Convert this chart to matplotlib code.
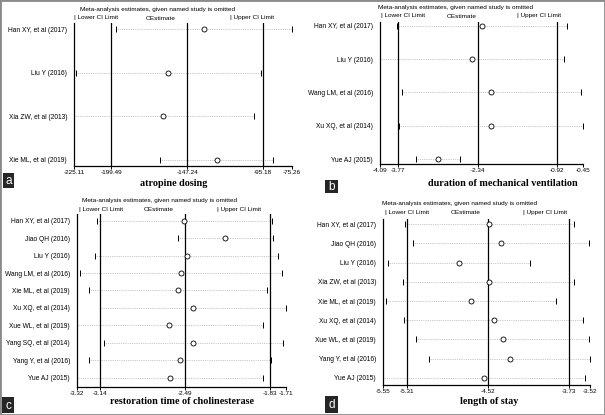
import numpy as np
import matplotlib.pyplot as plt
from matplotlib.patches import Rectangle

W, H = 605, 415

# panel a - atropine dosing
a_studies = ["Han XY, et al (2017)", "Liu Y (2016)", "Xia ZW, et al (2013)", "Xie ML, et al (2019)"]
a_low = [-196.5, -224.0, -225.11, -166.0]
a_est = [-135.8, -160.3, -163.7, -127.0]
a_up = [-75.5, -96.4, -101.4, -88.5]
a_ticks = [-225.11, -199.49, -147.24, -95.18, -75.26]

# panel b - duration of mechanical ventilation
b_studies = ["Han XY, et al (2017)", "Liu Y (2016)", "Wang LM, et al (2016)", "Xu XQ, et al (2014)", "Yue AJ (2015)"]
b_low = [-3.785, -4.09, -3.70, -3.75, -3.44]
b_est = [-2.257, -2.447, -2.10, -2.10, -3.056]
b_up = [-0.733, -0.798, -0.493, -0.45, -2.66]
b_ticks = [-4.09, -3.77, -2.34, -0.92, -0.45]

# panel c - restoration time of cholinesterase
c_studies = ["Han XY, et al (2017)", "Jiao QH (2016)", "Liu Y (2016)", "Wang LM, et al (2016)",
             "Xie ML, et al (2019)", "Xu XQ, et al (2014)", "Xue WL, et al (2019)",
             "Yang SQ, et al (2014)", "Yang Y, et al (2016)", "Yue AJ (2015)"]
c_low = [-3.164, -2.54, -3.179, -3.297, -3.23, -3.143, -3.32, -3.11, -3.225, -3.318]
c_est = [-2.493, -2.177, -2.475, -2.521, -2.542, -2.429, -2.609, -2.424, -2.526, -2.604]
c_up = [-1.818, -1.812, -1.774, -1.741, -1.854, -1.712, -1.889, -1.735, -1.828, -1.889]
c_ticks = [-3.32, -3.14, -2.49, -1.83, -1.71]

# panel d - length of stay
d_studies = ["Han XY, et al (2017)", "Jiao QH (2016)", "Liu Y (2016)", "Xia ZW, et al (2013)",
             "Xie ML, et al (2019)", "Xu XQ, et al (2014)", "Xue WL, et al (2019)",
             "Yang Y, et al (2016)", "Yue AJ (2015)"]
d_low = [-5.33, -5.251, -5.50, -5.35, -5.52, -5.344, -5.226, -5.098, -5.55]
d_est = [-4.509, -4.394, -4.803, -4.512, -4.688, -4.466, -4.377, -4.305, -4.558]
d_up = [-3.68, -3.532, -4.109, -3.674, -3.857, -3.591, -3.532, -3.517, -3.569]
d_ticks = [-5.55, -5.31, -4.52, -3.73, -3.52]

fig = plt.figure(figsize=(W / 100, H / 100), dpi=100)
fig.patch.set_facecolor("white")

SANS = ["Liberation Sans", "DejaVu Sans"]
SERIF = "Liberation Serif"


def ftext(x, y, s, **kw):
    return fig.text(x / W, 1 - y / H, s, **kw)


def panel(box, rows, studies, low, est, up, ticks, xlabel, xlab_xy, title_xy, leg_y, leg_x, letter, letter_box):
    x0, y0, x1, y1 = box
    ax = fig.add_axes([x0 / W, 1 - y1 / H, (x1 - x0) / W, (y1 - y0) / H])
    n = len(studies)
    first, last = rows
    s = (last - first) / (n - 1)
    y = np.arange(n)
    ax.hlines(y, low, up, colors="#b5b5b5", linestyles=(0, (1, 1.2)), lw=0.6, zorder=1)
    ax.plot(low, y, ls="none", marker="|", ms=3.8, mew=0.7, color="black", zorder=3)
    ax.plot(up, y, ls="none", marker="|", ms=3.8, mew=0.7, color="black", zorder=3)
    ax.plot(est, y, ls="none", marker="o", ms=3.6, mew=0.6, mfc="white", mec="black", zorder=4)
    for t in ticks[1:-1]:
        ax.axvline(t, color="black", lw=0.9, zorder=2)
    ax.set_xlim(ticks[0], ticks[-1])
    ax.set_ylim((y1 - first) / s, (y0 - first) / s)
    ax.set_xticks(ticks)
    ax.set_xticklabels([f"{t:.2f}" for t in ticks], fontsize=4.6, family=SANS)
    ax.tick_params(axis="x", length=2, width=0.7, pad=1)
    ax.set_yticks(y)
    ax.set_yticklabels(studies, fontsize=4.8, family=SANS)
    ax.tick_params(axis="y", length=0, pad=5)
    for side in ["top", "right"]:
        ax.spines[side].set_visible(False)
    for side in ["left", "bottom"]:
        ax.spines[side].set_linewidth(0.9)
    ax.set_facecolor("none")

    ftext(*title_xy, "Meta-analysis estimates, given named study is omitted",
          fontsize=4.6, family=SANS, ha="center", va="center")
    for xx, lab in zip(leg_x, ["| Lower CI Limit", "OEstimate", "| Upper CI Limit"]):
        ftext(xx, leg_y, lab, fontsize=4.6, family=SANS, ha="left", va="center")
    ftext(*xlab_xy, xlabel, fontsize=7.3, family=SERIF, weight="bold", ha="center", va="center")

    bx0, by0, bx1, by1 = letter_box
    fig.patches.append(Rectangle((bx0 / W, 1 - by1 / H), (bx1 - bx0) / W, (by1 - by0) / H,
                                 transform=fig.transFigure, facecolor="#262626", edgecolor="none"))
    ftext((bx0 + bx1) / 2, (by0 + by1) / 2 + 0.5, letter, color="white", fontsize=8.5,
          family=SANS, ha="center", va="center")
    return ax


panel((74, 23, 292, 166), (29, 160), a_studies, a_low, a_est, a_up, a_ticks,
      "atropine dosing", (174, 184), (158, 10), 18, (74, 146, 230), "a", (3, 173, 14, 188))
panel((380, 22, 583, 164), (26, 159), b_studies, b_low, b_est, b_up, b_ticks,
      "duration of mechanical ventilation", (503, 184), (455, 7), 16, (381, 447, 517), "b", (325, 180, 338, 193))
panel((77, 214, 286, 386.7), (220.7, 377.7), c_studies, c_low, c_est, c_up, c_ticks,
      "restoration time of cholinesterase", (182, 401.5), (159, 200), 209, (79, 144, 217), "c", (2, 397, 14, 413))
panel((383, 219, 590, 385), (224.3, 377.7), d_studies, d_low, d_est, d_up, d_ticks,
      "length of stay", (489, 401.5), (460, 203), 212, (385, 451, 523), "d", (325, 396, 338, 413))

# grey frame round the whole figure
fig.patches.append(Rectangle((0, 0), 1, 1, transform=fig.transFigure, facecolor="none",
                             edgecolor="#8a8a8a", lw=2.0))

fig.savefig("out.png", dpi=100)
